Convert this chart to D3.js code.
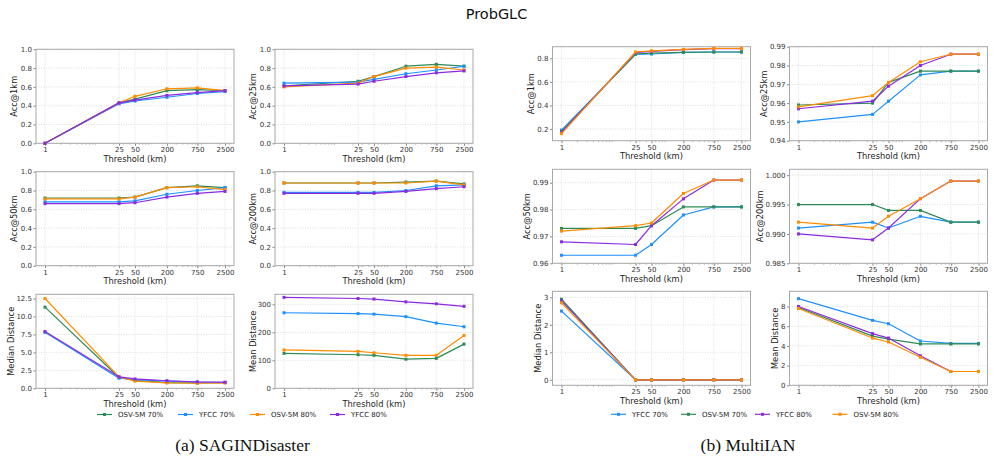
<!DOCTYPE html>
<html><head><meta charset="utf-8">
<script src="https://cdn.jsdelivr.net/npm/d3@7"></script>
<style>body{margin:0;background:#fff;} svg text{font-family:"DejaVu Sans",sans-serif;}</style>
</head><body><svg id="c" width="993" height="461"></svg>
<script>
// ---------- data ----------
const thresholds = [1, 25, 50, 200, 750, 2500];
const xTickLabels = ["1", "25", "50", "200", "750", "2500"];

const saginSeries = ["OSV-5M 70%", "YFCC 70%", "OSV-5M 80%", "YFCC 80%"];
const saginColors = ["#2e8b57", "#1e90ff", "#ff8c00", "#8a2be2"];
const multiSeries = ["YFCC 70%", "OSV-5M 70%", "YFCC 80%", "OSV-5M 80%"];
const multiColors = ["#1e90ff", "#2e8b57", "#8a2be2", "#ff8c00"];

// SAGINDisaster (order: OSV-5M 70%, YFCC 70%, OSV-5M 80%, YFCC 80%)
const saginAcc1 = [
  [0, 0.43, 0.47, 0.56, 0.57, 0.56],
  [0, 0.42, 0.45, 0.49, 0.53, 0.55],
  [0, 0.43, 0.50, 0.58, 0.59, 0.56],
  [0, 0.43, 0.46, 0.51, 0.54, 0.56]];
const saginAcc25 = [
  [0.61, 0.66, 0.71, 0.82, 0.84, 0.82],
  [0.64, 0.65, 0.68, 0.74, 0.78, 0.82],
  [0.60, 0.64, 0.71, 0.80, 0.81, 0.78],
  [0.61, 0.63, 0.66, 0.71, 0.75, 0.77]];
const saginAcc50 = [
  [0.72, 0.72, 0.73, 0.83, 0.85, 0.83],
  [0.68, 0.68, 0.69, 0.76, 0.80, 0.83],
  [0.71, 0.71, 0.73, 0.83, 0.84, 0.81],
  [0.66, 0.66, 0.67, 0.73, 0.77, 0.79]];
const saginAcc200 = [
  [0.88, 0.88, 0.88, 0.89, 0.90, 0.87],
  [0.78, 0.78, 0.78, 0.80, 0.85, 0.86],
  [0.88, 0.88, 0.88, 0.88, 0.90, 0.86],
  [0.77, 0.77, 0.77, 0.79, 0.82, 0.84]];
const saginMedian = [
  [11.3, 1.5, 1.1, 0.8, 0.75, 0.8],
  [7.8, 1.4, 1.2, 1.0, 0.85, 0.8],
  [12.5, 1.6, 1.0, 0.75, 0.7, 0.75],
  [7.9, 1.6, 1.3, 1.05, 0.9, 0.85]];
const saginMean = [
  [125, 120, 118, 104, 107, 158],
  [270, 267, 265, 256, 233, 220],
  [137, 132, 127, 118, 118, 189],
  [325, 321, 319, 309, 302, 293]];

// MultiIAN (order: YFCC 70%, OSV-5M 70%, YFCC 80%, OSV-5M 80%)
const multiAcc1 = [
  [0.19, 0.835, 0.838, 0.852, 0.855, 0.855],
  [0.18, 0.838, 0.845, 0.852, 0.855, 0.855],
  [0.17, 0.850, 0.860, 0.875, 0.883, 0.883],
  [0.16, 0.855, 0.865, 0.877, 0.885, 0.885]];
const multiAcc25 = [
  [0.950, 0.954, 0.961, 0.975, 0.977, 0.977],
  [0.959, 0.960, 0.971, 0.977, 0.977, 0.977],
  [0.957, 0.961, 0.969, 0.980, 0.986, 0.986],
  [0.958, 0.964, 0.971, 0.982, 0.986, 0.986]];
const multiAcc50 = [
  [0.963, 0.963, 0.967, 0.978, 0.981, 0.981],
  [0.973, 0.973, 0.974, 0.981, 0.981, 0.981],
  [0.968, 0.967, 0.974, 0.984, 0.991, 0.991],
  [0.972, 0.974, 0.975, 0.986, 0.991, 0.991]];
const multiAcc200 = [
  [0.991, 0.992, 0.991, 0.993, 0.992, 0.992],
  [0.995, 0.995, 0.994, 0.994, 0.992, 0.992],
  [0.990, 0.989, 0.991, 0.996, 0.999, 0.999],
  [0.992, 0.991, 0.993, 0.996, 0.999, 0.999]];
const multiMedian = [
  [2.5, 0, 0, 0, 0, 0],
  [2.93, 0, 0, 0, 0, 0],
  [2.87, 0, 0, 0, 0, 0],
  [2.8, 0, 0, 0, 0, 0]];
const multiMean = [
  [8.8, 6.6, 6.25, 4.5, 4.25, 4.25],
  [7.9, 5.0, 4.7, 4.2, 4.2, 4.2],
  [8.0, 5.25, 4.8, 3.0, 1.4, 1.4],
  [7.8, 4.8, 4.4, 2.85, 1.4, 1.4]];

// y tick labels per panel
const ticksAcc = ["0.0", "0.2", "0.4", "0.6", "0.8", "1.0"];
const ticksSaginMedian = ["0.0", "2.5", "5.0", "7.5", "10.0", "12.5"];
const ticksSaginMean = ["0", "100", "200", "300"];
const ticksMultiAcc1 = ["0.2", "0.4", "0.6", "0.8"];
const ticksMultiAcc25 = ["0.94", "0.95", "0.96", "0.97", "0.98", "0.99"];
const ticksMultiAcc50 = ["0.96", "0.97", "0.98", "0.99"];
const ticksMultiAcc200 = ["0.985", "0.990", "0.995", "1.000"];
const ticksMultiMedian = ["0", "1", "2", "3"];
const ticksMultiMean = ["0", "2", "4", "6", "8"];

// ---------- drawing ----------
const svg = d3.select("#c");
svg.append("rect").attr("width", 993).attr("height", 461).attr("fill", "#fff");

const PW = 198, PH = 94;
const colA = [36, 275], colB = [552.5, 789.5];
const rowA = [49.3, 171.7, 294.3], rowB = [46.7, 169.3, 291.3];

const panels = [
  {x: colA[0], y: rowA[0], data: saginAcc1, colors: saginColors, yd: [0, 1], ticks: ticksAcc, label: "Acc@1km"},
  {x: colA[1], y: rowA[0], data: saginAcc25, colors: saginColors, yd: [0, 1], ticks: ticksAcc, label: "Acc@25km"},
  {x: colA[0], y: rowA[1], data: saginAcc50, colors: saginColors, yd: [0, 1], ticks: ticksAcc, label: "Acc@50km"},
  {x: colA[1], y: rowA[1], data: saginAcc200, colors: saginColors, yd: [0, 1], ticks: ticksAcc, label: "Acc@200km"},
  {x: colA[0], y: rowA[2], data: saginMedian, colors: saginColors, yd: [0, 13.09], ticks: ticksSaginMedian, label: "Median Distance"},
  {x: colA[1], y: rowA[2], data: saginMean, colors: saginColors, yd: [0, 336], ticks: ticksSaginMean, label: "Mean Distance"},
  {x: colB[0], y: rowB[0], data: multiAcc1, colors: multiColors, yd: [0.1, 0.9], ticks: ticksMultiAcc1, label: "Acc@1km"},
  {x: colB[1], y: rowB[0], data: multiAcc25, colors: multiColors, yd: [0.94, 0.99], ticks: ticksMultiAcc25, label: "Acc@25km"},
  {x: colB[0], y: rowB[1], data: multiAcc50, colors: multiColors, yd: [0.96, 0.995], ticks: ticksMultiAcc50, label: "Acc@50km"},
  {x: colB[1], y: rowB[1], data: multiAcc200, colors: multiColors, yd: [0.985, 1.001], ticks: ticksMultiAcc200, label: "Acc@200km"},
  {x: colB[0], y: rowB[2], data: multiMedian, colors: multiColors, yd: [-0.2, 3.22], ticks: ticksMultiMedian, label: "Median Distance"},
  {x: colB[1], y: rowB[2], data: multiMean, colors: multiColors, yd: [0, 9.55], ticks: ticksMultiMean, label: "Mean Distance"}
];

const lmin = Math.log10(thresholds[0]), lmax = Math.log10(thresholds[thresholds.length - 1]);
const marg = (lmax - lmin) * 0.05;
const minorVals = [];
[1, 10, 100, 1000].forEach(dec => { for (let k = 2; k <= 9; k++) minorVals.push(k * dec); });

function drawPanel(p) {
  const g = svg.append("g").attr("transform", `translate(${p.x},${p.y})`);
  const x = d3.scaleLog().domain([Math.pow(10, lmin - marg), Math.pow(10, lmax + marg)]).range([0, PW]);
  const y = d3.scaleLinear().domain(p.yd).range([PH, 0]);
  const yv = p.ticks.map(Number);
  const minors = minorVals.filter(v => v >= x.domain()[0] && v <= x.domain()[1] && thresholds.indexOf(v) < 0);

  // grid
  g.selectAll(".gx").data(thresholds).join("line")
    .attr("x1", d => x(d)).attr("x2", d => x(d)).attr("y1", 0).attr("y2", PH)
    .attr("stroke", "#d0d0d0").attr("stroke-width", 0.7).attr("stroke-dasharray", "1,1.5");
  g.selectAll(".gy").data(yv).join("line")
    .attr("x1", 0).attr("x2", PW).attr("y1", d => y(d)).attr("y2", d => y(d))
    .attr("stroke", "#d0d0d0").attr("stroke-width", 0.7).attr("stroke-dasharray", "1,1.5");

  // x axis
  const xa = g.append("g").attr("transform", `translate(0,${PH})`)
    .call(d3.axisBottom(x).tickValues(thresholds).tickFormat((d, i) => xTickLabels[i]).tickSize(2.5).tickPadding(1.5));
  xa.select(".domain").remove();
  xa.selectAll("line").attr("stroke", "#555").attr("stroke-width", 0.7);
  xa.selectAll("text").attr("font-size", 7).attr("fill", "#333").attr("font-family", "DejaVu Sans");
  g.append("g").attr("transform", `translate(0,${PH})`).selectAll("line").data(minors).join("line")
    .attr("x1", d => x(d)).attr("x2", d => x(d)).attr("y1", 0).attr("y2", 1.5)
    .attr("stroke", "#777").attr("stroke-width", 0.5);

  // y axis
  const ya = g.append("g")
    .call(d3.axisLeft(y).tickValues(yv).tickFormat((d, i) => p.ticks[i]).tickSize(2.5).tickPadding(1.5));
  ya.select(".domain").remove();
  ya.selectAll("line").attr("stroke", "#555").attr("stroke-width", 0.7);
  ya.selectAll("text").attr("font-size", 7).attr("fill", "#333").attr("font-family", "DejaVu Sans");

  // frame
  g.append("rect").attr("width", PW).attr("height", PH).attr("fill", "none")
    .attr("stroke", "#a8a8a8").attr("stroke-width", 1);

  // labels
  g.append("text").attr("x", PW / 2).attr("y", PH + 18.5).attr("text-anchor", "middle")
    .attr("font-size", 8.3).attr("fill", "#222").text("Threshold (km)");
  const maxChars = d3.max(p.ticks, t => t.length);
  const lx = -(10.5 + 3.7 * maxChars);
  g.append("text").attr("transform", `translate(${lx},${PH / 2}) rotate(-90)`)
    .attr("dy", "0.35em").attr("text-anchor", "middle")
    .attr("font-size", 8.3).attr("fill", "#222").text(p.label);

  // series
  const line = d3.line().x((d, i) => x(thresholds[i])).y(d => y(d));
  p.data.forEach((vals, si) => {
    const c = p.colors[si];
    g.append("path").attr("d", line(vals)).attr("fill", "none").attr("stroke", c)
      .attr("stroke-width", 1.2).attr("stroke-linejoin", "round");
    g.selectAll(null).data(vals).join("rect")
      .attr("x", (d, i) => x(thresholds[i]) - 1.5).attr("y", d => y(d) - 1.5)
      .attr("width", 3).attr("height", 3).attr("fill", c);
  });
}
panels.forEach(drawPanel);

// legends
function legend(names, colors, xs, yy) {
  names.forEach((n, i) => {
    const g = svg.append("g").attr("transform", `translate(${xs[i]},${yy})`);
    g.append("line").attr("x1", 0).attr("x2", 15).attr("stroke", colors[i]).attr("stroke-width", 1.2);
    g.append("rect").attr("x", 6).attr("y", -1.5).attr("width", 3).attr("height", 3).attr("fill", colors[i]);
    g.append("text").attr("x", 21).attr("y", 2.5).attr("font-size", 7).attr("fill", "#222").text(n);
  });
}
legend(saginSeries, saginColors, [97, 178, 250, 330], 414.5);
legend(multiSeries, multiColors, [611, 681, 755, 832.5], 414.3);

// titles
svg.append("text").attr("x", 496.5).attr("y", 19).attr("text-anchor", "middle")
  .attr("font-size", 14.5).attr("fill", "#111").text("ProbGLC");
svg.append("text").attr("x", 242.5).attr("y", 451).attr("text-anchor", "middle")
  .style("font-family", "'Liberation Serif','Times New Roman',serif")
  .attr("font-size", 17.5).attr("fill", "#111").text("(a) SAGINDisaster");
svg.append("text").attr("x", 748).attr("y", 451).attr("text-anchor", "middle")
  .style("font-family", "'Liberation Serif','Times New Roman',serif")
  .attr("font-size", 17.5).attr("fill", "#111").text("(b) MultiIAN");
</script></body></html>
